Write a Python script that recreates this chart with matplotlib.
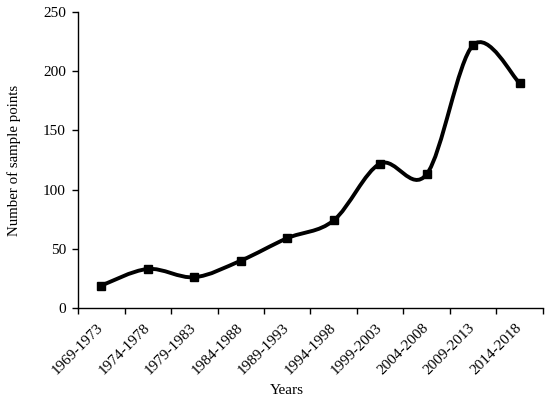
import matplotlib
matplotlib.use("Agg")
import matplotlib.pyplot as plt
import numpy as np
from matplotlib.path import Path
from matplotlib.patches import PathPatch

# Data
periods = ["1969-1973", "1974-1978", "1979-1983", "1984-1988", "1989-1993",
           "1994-1998", "1999-2003", "2004-2008", "2009-2013", "2014-2018"]
samples = [19, 33, 26, 40, 59, 74, 122, 113, 222, 190]

plt.rcParams['font.family'] = ['Liberation Serif', 'DejaVu Serif']

fig = plt.figure(figsize=(5.5, 3.99), dpi=100)
ax = fig.add_axes([0.142, 0.228, 0.845, 0.742])

x = np.arange(len(samples)) + 0.5
y = np.array(samples, dtype=float)

# Excel-like smoothed line: cubic Bezier segments (Catmull-Rom control points)
verts = [(x[0], y[0])]
codes = [Path.MOVETO]
n = len(x)
for i in range(n - 1):
    p0 = (x[max(i - 1, 0)], y[max(i - 1, 0)])
    p1 = (x[i], y[i])
    p2 = (x[i + 1], y[i + 1])
    p3 = (x[min(i + 2, n - 1)], y[min(i + 2, n - 1)])
    c1 = (p1[0] + (p2[0] - p0[0]) / 6, p1[1] + (p2[1] - p0[1]) / 6)
    c2 = (p2[0] - (p3[0] - p1[0]) / 6, p2[1] - (p3[1] - p1[1]) / 6)
    verts += [c1, c2, p2]
    codes += [Path.CURVE4] * 3
ax.add_patch(PathPatch(Path(verts, codes), facecolor='none', edgecolor='black',
                       lw=2.8, capstyle='round', joinstyle='round'))
ax.plot(x, y, linestyle='none', marker='s', markersize=5.5, color='black')

ax.set_xlim(0, len(samples))
ax.set_ylim(0, 250)
ax.set_yticks([0, 50, 100, 150, 200, 250])
ax.set_xticks(np.arange(len(samples) + 1))
ax.set_xticklabels([])
ax.set_xticks(x, minor=True)
ax.set_xticklabels(periods, minor=True, rotation=45, ha='right', va='center',
                   rotation_mode='anchor', fontsize=11)
ax.tick_params(axis='x', which='minor', length=0, pad=12.5)
ax.tick_params(axis='x', which='major', direction='out', length=4, width=1)
ax.tick_params(axis='y', direction='out', length=4.3, width=1, labelsize=11, pad=4.5)

for side in ['top', 'right']:
    ax.spines[side].set_visible(False)
ax.spines['left'].set_linewidth(1)
ax.spines['bottom'].set_linewidth(1)

ax.set_xlabel("Years", fontsize=11)
ax.xaxis.set_label_coords(0.45, -0.255)
ax.set_ylabel("Number of sample points", fontsize=10.7, va='center')
ax.yaxis.set_label_coords(-0.137, 0.5)

fig.savefig("out.png", dpi=100)
